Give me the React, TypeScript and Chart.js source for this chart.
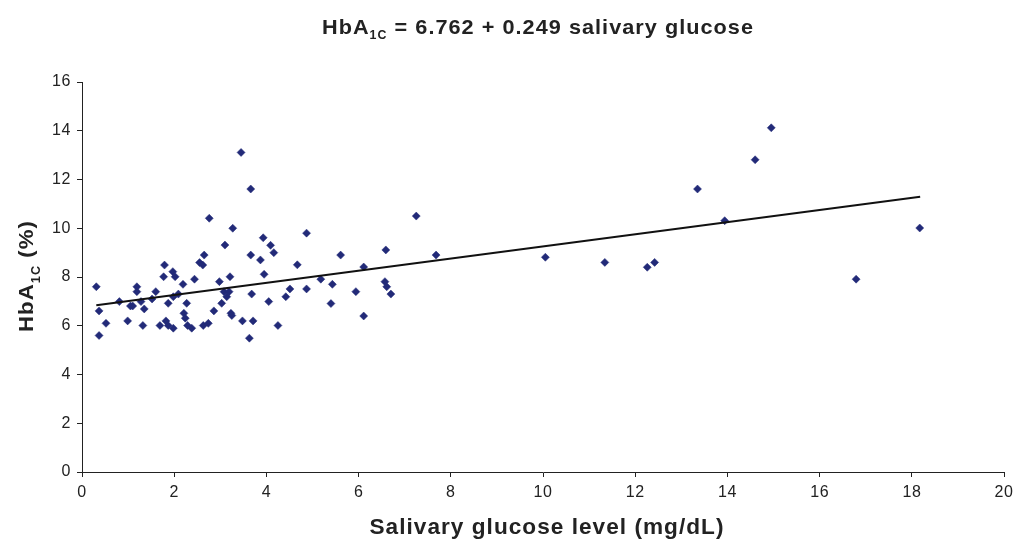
import React, { useEffect, useRef } from "react";
import { Chart, registerables } from "chart.js";

Chart.register(...registerables);

// Salivary glucose level (mg/dL) for each subject
const salivaryGlucose = [
  0.31, 0.37, 0.37, 0.52, 0.81, 0.99, 1.05, 1.10, 1.19, 1.19,
  1.28, 1.35, 1.32, 1.52, 1.60, 1.69, 1.79, 1.77, 1.82, 1.87,
  1.87, 1.97, 2.02, 1.98, 1.98, 2.09, 2.19, 2.21, 2.24, 2.27,
  2.29, 2.38, 2.44, 2.63, 2.74, 2.65, 2.55, 2.62, 2.76, 2.86,
  2.98, 3.03, 3.08, 3.14, 3.19, 3.10, 3.21, 3.23, 3.25, 3.27,
  3.48, 3.45, 3.66, 3.63, 3.66, 3.68, 3.71, 3.87, 3.93, 4.09,
  4.16, 3.95, 4.05, 4.25, 4.42, 4.51, 4.67, 4.87, 4.87, 5.18,
  5.43, 5.40, 5.61, 5.94, 6.11, 6.11, 6.59, 6.57, 6.61, 6.70,
  7.25, 7.68, 10.05, 11.34, 12.26, 12.42, 13.35, 13.94, 14.60, 14.95,
  16.79, 18.17,
];

// HbA1C (%) for each subject
const hba1c = [
  7.60, 6.61, 5.60, 6.10, 6.99, 6.20, 6.81, 6.81, 7.60, 7.40,
  6.99, 6.69, 6.01, 7.10, 7.40, 6.01, 8.49, 8.01, 6.20, 6.01,
  6.92, 8.22, 8.01, 7.19, 5.90, 7.30, 7.70, 6.51, 6.31, 6.92,
  6.01, 5.90, 7.91, 6.01, 6.10, 8.90, 8.59, 8.49, 10.41, 6.61,
  7.81, 6.92, 7.40, 7.19, 7.40, 9.31, 8.01, 6.51, 6.42, 10.00,
  6.20, 13.11, 11.61, 5.49, 8.90, 7.30, 6.20, 8.70, 9.61, 9.30,
  9.00, 8.11, 6.99, 6.01, 7.19, 7.51, 8.50, 9.80, 7.51, 7.91,
  7.70, 6.91, 8.90, 7.40, 6.40, 8.41, 9.11, 7.81, 7.60, 7.30,
  10.50, 8.90, 8.81, 8.60, 8.40, 8.60, 11.61, 10.31, 12.81, 14.12,
  7.91, 10.01,
];

// Fitted line end points (HbA1C = 6.762 + 0.249 salivary glucose)
const trendX = [0.31, 18.18];
const trendY = [6.84, 11.29];

const xAxisTitle = "Salivary glucose level (mg/dL)";
const titleParts = ["HbA", "1C", " = 6.762 + 0.249 salivary glucose"];
const yTitleParts = ["HbA", "1C", " (%)"];

const FONT = "'Liberation Sans', Arial, Helvetica, sans-serif";
const TEXT = "#222222";
const MARK = "#222a78";

type Part = { t: string; size: number; sub?: number };

// draws bold text parts centred on (0,0) along the baseline, fitted to a target width
function drawParts(ctx: CanvasRenderingContext2D, parts: Part[], targetWidth: number, spacing: number) {
  (ctx as any).letterSpacing = `${spacing}px`;
  let total = 0;
  const widths = parts.map((p) => {
    ctx.font = `bold ${p.size}px ${FONT}`;
    const w = ctx.measureText(p.t).width;
    total += w;
    return w;
  });
  const sx = targetWidth / total;
  ctx.scale(sx, 1);
  let x = -total / 2;
  ctx.textAlign = "left";
  ctx.textBaseline = "alphabetic";
  ctx.fillStyle = TEXT;
  parts.forEach((p, i) => {
    ctx.font = `bold ${p.size}px ${FONT}`;
    ctx.fillText(p.t, x, p.sub ? p.sub : 0);
    x += widths[i];
  });
}

const subTextPlugin = {
  id: "subTexts",
  beforeDraw(chart: any) {
    (chart.ctx as any).letterSpacing = "0.6px";
  },
  afterDraw(chart: any) {
    const ctx: CanvasRenderingContext2D = chart.ctx;
    // chart title
    ctx.save();
    ctx.translate(538, 33.5);
    drawParts(
      ctx,
      [
        { t: titleParts[0], size: 21 },
        { t: titleParts[1], size: 12, sub: 5.5 },
        { t: titleParts[2], size: 21 },
      ],
      432,
      1
    );
    ctx.restore();
    // y axis title
    ctx.save();
    ctx.translate(33, 276);
    ctx.rotate(-Math.PI / 2);
    drawParts(
      ctx,
      [
        { t: yTitleParts[0], size: 21 },
        { t: yTitleParts[1], size: 12, sub: 6.5 },
        { t: yTitleParts[2], size: 21 },
      ],
      112,
      1
    );
    ctx.restore();
    // x axis title
    ctx.save();
    ctx.translate(547, 533.5);
    drawParts(ctx, [{ t: xAxisTitle, size: 22 }], 355, 1);
    ctx.restore();
  },
};

export default function App() {
  const canvasRef = useRef<HTMLCanvasElement | null>(null);

  useEffect(() => {
    if (!canvasRef.current) return;
    const points = salivaryGlucose.map((x, i) => ({ x, y: hba1c[i] }));
    const trend = trendX.map((x, i) => ({ x, y: trendY[i] }));
    const tickFont = { family: FONT, size: 16 };
    const chart = new Chart(canvasRef.current, {
      type: "scatter",
      data: {
        datasets: [
          {
            type: "line",
            data: trend,
            borderColor: "#111111",
            borderWidth: 2,
            pointRadius: 0,
            fill: false,
            order: 0,
          } as any,
          {
            data: points,
            pointStyle: "rectRot",
            pointRadius: 4,
            pointBackgroundColor: MARK,
            pointBorderColor: MARK,
            pointBorderWidth: 0.5,
            order: 1,
          },
        ],
      },
      options: {
        animation: false,
        responsive: false,
        devicePixelRatio: 1,
        layout: { padding: { top: 82, right: 13, left: 0, bottom: 0 } },
        plugins: {
          legend: { display: false },
          tooltip: { enabled: false },
          title: { display: false },
        },
        scales: {
          x: {
            type: "linear",
            min: 0,
            max: 20,
            ticks: { stepSize: 2, font: tickFont, color: TEXT, padding: 6 },
            grid: { drawOnChartArea: false, drawTicks: true, tickLength: 5, color: "#222" },
            border: { color: "#222", width: 1 },
            title: { display: false },
            afterFit: (s: any) => {
              s.height = 67;
            },
          },
          y: {
            type: "linear",
            min: 0,
            max: 16,
            ticks: { stepSize: 2, font: tickFont, color: TEXT, padding: 6 },
            grid: { drawOnChartArea: false, drawTicks: true, tickLength: 5, color: "#222" },
            border: { color: "#222", width: 1 },
            afterFit: (s: any) => {
              s.width = 82;
            },
          },
        },
      },
      plugins: [subTextPlugin],
    });
    return () => chart.destroy();
  }, []);

  return (
    <div style={{ position: "fixed", left: 0, top: 0, width: 1019, height: 539, background: "#fff" }}>
      <canvas ref={canvasRef} width={1019} height={539} style={{ display: "block" }} />
    </div>
  );
}
